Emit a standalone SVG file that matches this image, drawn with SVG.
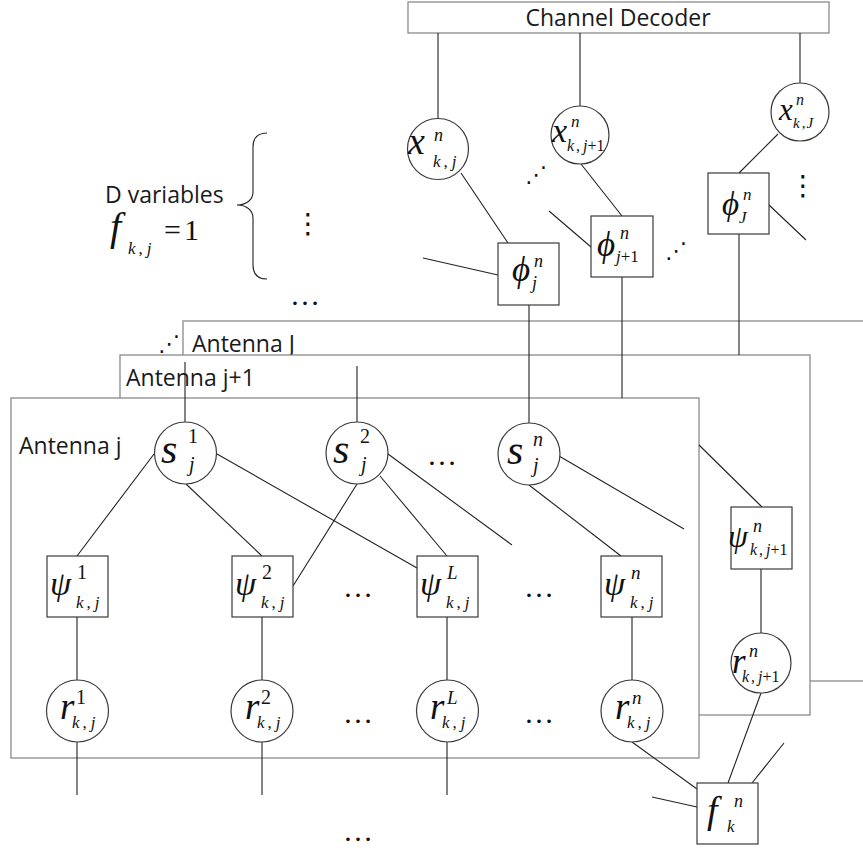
<svg xmlns="http://www.w3.org/2000/svg" width="863" height="851" viewBox="0 0 863 851">
<defs>
<style>
.frame{fill:#fff;stroke:#8a8a8a;stroke-width:1.3}
.box{fill:#fff;stroke:#8a8a8a;stroke-width:1.3}
.node{fill:#fff;stroke:#3a3a3a;stroke-width:1.2}
.edge{stroke:#222;stroke-width:1.1;fill:none}
.lbl{font-family:"Open Sans","Liberation Sans",sans-serif;font-size:23px;fill:#1a1a1a}
.m{font-family:"Liberation Serif","Times New Roman",serif;font-style:italic;fill:#111}
.u{font-style:normal}
.dots{font-family:"Liberation Serif","Times New Roman",serif;font-size:30px;fill:#111}
.vd{font-family:"DejaVu Sans",sans-serif;fill:#111}
</style>
</defs>
<rect width="863" height="851" fill="#fff"/>

<g id="frames">
  <g id="antenna-J">
    <rect class="frame" x="183" y="321" width="720" height="360"/>
    <text class="lbl" x="192" y="352">Antenna J</text>
  </g>
  <g id="antenna-j1">
    <rect class="frame" x="120" y="355" width="690" height="360"/>
    <text class="lbl" x="126" y="386">Antenna j+1</text>
  </g>
  <g id="antenna-j">
    <rect class="frame" x="11" y="398" width="688" height="360"/>
    <text class="lbl" x="19" y="454">Antenna j</text>
  </g>
</g>

<g id="channel-decoder">
  <rect class="box" x="408" y="2" width="421" height="31"/>
  <text class="lbl" x="618" y="26" text-anchor="middle">Channel Decoder</text>
</g>

<g id="d-variables">
  <text class="lbl" x="105" y="203">D variables</text>
  <text class="m"><tspan x="110" y="240" font-size="40">f</tspan><tspan x="128" y="254" font-size="17">k</tspan><tspan class="u" dx="3" font-size="17">,</tspan><tspan dx="4" font-size="17">j</tspan><tspan class="u" x="164" y="240" font-size="30" letter-spacing="3">=1</tspan></text>
  <path class="edge" stroke="#444" d="M267,133 C258,133 253,138 253,147 L253,192 C253,200 246,205 237,205 C246,205 253,210 253,218 L253,265 C253,274 258,279 267,279"/>
</g>

<g id="connectors">
  <path class="edge" d="M438,33 V118 M580,33 V106 M800,33 V83"/>
  <path class="edge" d="M461,173 L508,243 M423,258 L498,275 M581,164 L622,216 M549,211 L591,247 M778,134 L739,173 M769,205 L806,240"/>
  <path class="edge" d="M529,305 V424 M622,277 V398 M739,234 V355"/>
  <path class="edge" d="M185,362 V422 M357,366 V422"/>
  <path class="edge" d="M154,454 L77,556 M186,484 L262,556 M217,454 L417,568"/>
  <path class="edge" d="M357,484 L293,586 M380,476 L447,556 M388,454 L512,545"/>
  <path class="edge" d="M529,485 L621,556 M559,456 L684,529 M699,445 L762,507"/>
  <path class="edge" d="M77,617 V681 M262,617 V681 M447,617 V681 M632,617 V681 M761,569 V633"/>
  <path class="edge" d="M77,742 V795 M262,742 V795 M447,742 V795"/>
  <path class="edge" d="M632,742 L697,789 M761,693 L728,783 M752,783 L784,743 M652,797 L697,807"/>
</g>

<g id="ellipses">
  <text class="dots" x="290" y="305">…</text>
  <text class="dots" x="427" y="465">…</text>
  <text class="dots" x="343" y="597">…</text>
  <text class="dots" x="524" y="597">…</text>
  <text class="dots" x="343" y="723">…</text>
  <text class="dots" x="524" y="723">…</text>
  <text class="dots" x="343" y="841">…</text>
  <text class="vd" font-size="28" x="294" y="233">⋮</text>
  <text class="vd" font-size="28" x="789" y="195">⋮</text>
  <text class="vd" font-size="22" x="525" y="182">⋰</text>
  <text class="vd" font-size="22" x="665" y="258">⋰</text>
  <text class="vd" font-size="22" x="158" y="351">⋰</text>
</g>

<g id="x-kj">
  <circle class="node" cx="438" cy="149" r="30.5"/>
  <text class="m"><tspan x="408" y="154" font-size="38">x</tspan><tspan x="434" y="141" font-size="18">n</tspan><tspan x="433" y="167" font-size="17">k</tspan><tspan class="u" dx="3" font-size="17">,</tspan><tspan dx="4" font-size="17">j</tspan></text>
</g>
<g id="x-kj1">
  <circle class="node" cx="580" cy="135" r="29"/>
  <text class="m"><tspan x="552" y="142" font-size="34">x</tspan><tspan x="571" y="127" font-size="17">n</tspan><tspan x="567" y="151" font-size="16">k</tspan><tspan class="u" dx="2" font-size="16">,</tspan><tspan dx="3" font-size="16">j</tspan><tspan class="u" font-size="16">+1</tspan></text>
</g>
<g id="x-kJ">
  <circle class="node" cx="800" cy="112" r="29"/>
  <text class="m"><tspan x="779" y="120" font-size="31">x</tspan><tspan x="796" y="105" font-size="16">n</tspan><tspan x="793" y="128" font-size="15">k</tspan><tspan class="u" dx="2" font-size="15">,</tspan><tspan dx="1" font-size="15">J</tspan></text>
</g>

<g id="phi-j">
  <rect class="node" x="498" y="243" width="61" height="62"/>
  <text class="m"><tspan x="512" y="281" font-size="35">ϕ</tspan><tspan x="534" y="267" font-size="18">n</tspan><tspan x="532" y="289" font-size="18">j</tspan></text>
</g>
<g id="phi-j1">
  <rect class="node" x="591" y="216" width="62" height="61"/>
  <text class="m"><tspan x="597" y="256" font-size="35">ϕ</tspan><tspan x="620" y="239" font-size="18">n</tspan><tspan x="616" y="262" font-size="17">j</tspan><tspan class="u" font-size="17">+1</tspan></text>
</g>
<g id="phi-J">
  <rect class="node" x="708" y="173" width="61" height="61"/>
  <text class="m"><tspan x="722" y="215" font-size="33">ϕ</tspan><tspan x="743" y="200" font-size="17">n</tspan><tspan x="739" y="223" font-size="17">J</tspan></text>
</g>

<g id="s-j1">
  <circle class="node" cx="185.5" cy="453" r="31"/>
  <text class="m"><tspan x="161" y="463" font-size="42">s</tspan><tspan class="u" x="188" y="443" font-size="20">1</tspan><tspan x="189" y="471" font-size="20">j</tspan></text>
</g>
<g id="s-j2">
  <circle class="node" cx="357" cy="453" r="31"/>
  <text class="m"><tspan x="333" y="463" font-size="42">s</tspan><tspan class="u" x="360" y="443" font-size="20">2</tspan><tspan x="361" y="471" font-size="20">j</tspan></text>
</g>
<g id="s-jn">
  <circle class="node" cx="529" cy="454" r="31"/>
  <text class="m"><tspan x="507" y="464" font-size="42">s</tspan><tspan x="533" y="446" font-size="20">n</tspan><tspan x="533" y="472" font-size="20">j</tspan></text>
</g>

<g id="psi-1">
  <rect class="node" x="47" y="556" width="61" height="61"/>
  <text class="m"><tspan x="50" y="595" font-size="34">ψ</tspan><tspan class="u" x="77" y="579" font-size="20">1</tspan><tspan x="76" y="608" font-size="17">k</tspan><tspan class="u" dx="3" font-size="17">,</tspan><tspan dx="4" font-size="17">j</tspan></text>
</g>
<g id="psi-2">
  <rect class="node" x="232" y="556" width="61" height="61"/>
  <text class="m"><tspan x="235" y="595" font-size="34">ψ</tspan><tspan class="u" x="262" y="579" font-size="20">2</tspan><tspan x="261" y="608" font-size="17">k</tspan><tspan class="u" dx="3" font-size="17">,</tspan><tspan dx="4" font-size="17">j</tspan></text>
</g>
<g id="psi-L">
  <rect class="node" x="417" y="556" width="61" height="61"/>
  <text class="m"><tspan x="420" y="595" font-size="34">ψ</tspan><tspan x="447" y="579" font-size="19">L</tspan><tspan x="446" y="608" font-size="17">k</tspan><tspan class="u" dx="3" font-size="17">,</tspan><tspan dx="4" font-size="17">j</tspan></text>
</g>
<g id="psi-n">
  <rect class="node" x="601" y="556" width="61" height="61"/>
  <text class="m"><tspan x="604" y="595" font-size="34">ψ</tspan><tspan x="631" y="579" font-size="19">n</tspan><tspan x="630" y="608" font-size="17">k</tspan><tspan class="u" dx="3" font-size="17">,</tspan><tspan dx="4" font-size="17">j</tspan></text>
</g>
<g id="psi-n-j1">
  <rect class="node" x="731" y="507" width="61" height="62"/>
  <text class="m"><tspan x="728" y="547" font-size="32">ψ</tspan><tspan x="753" y="532" font-size="18">n</tspan><tspan x="750" y="555" font-size="16">k</tspan><tspan class="u" dx="2" font-size="16">,</tspan><tspan dx="3" font-size="16">j</tspan><tspan class="u" font-size="16">+1</tspan></text>
</g>

<g id="r-1">
  <circle class="node" cx="77.5" cy="711" r="31"/>
  <text class="m"><tspan x="60" y="719" font-size="37">r</tspan><tspan class="u" x="76" y="704" font-size="20">1</tspan><tspan x="72" y="728" font-size="17">k</tspan><tspan class="u" dx="3" font-size="17">,</tspan><tspan dx="4" font-size="17">j</tspan></text>
</g>
<g id="r-2">
  <circle class="node" cx="262" cy="711" r="31"/>
  <text class="m"><tspan x="245" y="719" font-size="37">r</tspan><tspan class="u" x="261" y="704" font-size="20">2</tspan><tspan x="257" y="728" font-size="17">k</tspan><tspan class="u" dx="3" font-size="17">,</tspan><tspan dx="4" font-size="17">j</tspan></text>
</g>
<g id="r-L">
  <circle class="node" cx="447.5" cy="711" r="31"/>
  <text class="m"><tspan x="430" y="719" font-size="37">r</tspan><tspan x="447" y="704" font-size="19">L</tspan><tspan x="442" y="728" font-size="17">k</tspan><tspan class="u" dx="3" font-size="17">,</tspan><tspan dx="4" font-size="17">j</tspan></text>
</g>
<g id="r-n">
  <circle class="node" cx="632" cy="711" r="31"/>
  <text class="m"><tspan x="615" y="719" font-size="37">r</tspan><tspan x="632" y="704" font-size="19">n</tspan><tspan x="627" y="728" font-size="17">k</tspan><tspan class="u" dx="3" font-size="17">,</tspan><tspan dx="4" font-size="17">j</tspan></text>
</g>
<g id="r-n-j1">
  <circle class="node" cx="761" cy="663" r="30"/>
  <text class="m"><tspan x="732" y="673" font-size="35">r</tspan><tspan x="749" y="657" font-size="18">n</tspan><tspan x="742" y="682" font-size="16">k</tspan><tspan class="u" dx="2" font-size="16">,</tspan><tspan dx="3" font-size="16">j</tspan><tspan class="u" font-size="16">+1</tspan></text>
</g>

<g id="f-kn">
  <rect class="node" x="697" y="783" width="61" height="61"/>
  <text class="m"><tspan x="707" y="823" font-size="38">f</tspan><tspan x="734" y="807" font-size="18">n</tspan><tspan x="727" y="832" font-size="17">k</tspan></text>
</g>
</svg>
